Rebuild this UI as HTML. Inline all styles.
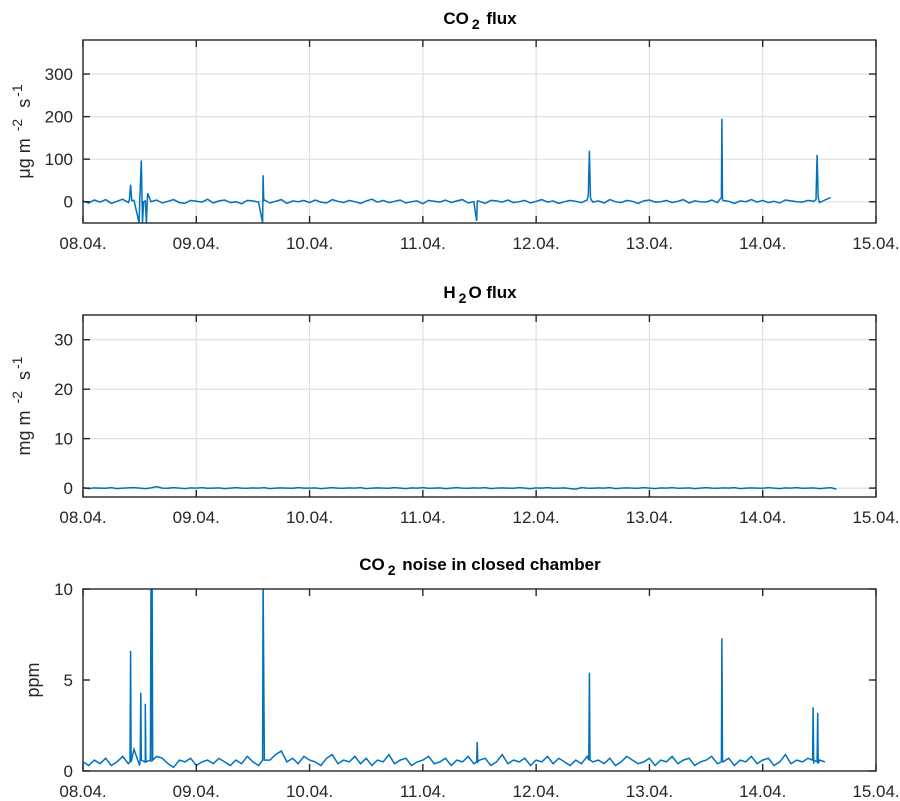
<!DOCTYPE html>
<html><head><meta charset="utf-8"><style>
body{margin:0;background:#fff}
svg{display:block;font-family:"Liberation Sans",sans-serif}
</style></head><body>
<svg id="c" width="900" height="801" viewBox="0 0 900 801"></svg>
<script>
const dayLabels=["08.04.","09.04.","10.04.","11.04.","12.04.","13.04.","14.04.","15.04."];
const noiseStart=0, noiseStep=0.05;
const co2Noise=[2,-3,4,-1,5,-4,1,6,-2,3,-5,2,0,4,-3,1,5,-2,-4,3,1,-1,6,-3,2,4,-2,0,-5,3,2,-1,4,-3,1,5,-4,2,0,3,-2,4,-1,-3,5,1,-2,3,0,-4,2,6,-1,3,-2,1,4,-3,0,2,-5,3,1,-1,4,-2,2,5,-3,0,1,-4,3,2,-1,4,-2,0,3,-3,1,5,-1,2,-4,0,3,1,-2,4,-1,2,-3,5,0,-2,3,1,-4,2,4,-1,0,3,-2,1,5,-3,2,0,-1,4,-2,3,1,-4,2,0,5,-1,3,-2,1,-3,4,2,0,-1,3,1,-2,4,10];
const co2SpikeDays=[0.41,0.42,0.43,0.495,0.505,0.515,0.525,0.535,0.56,0.57,1.585,1.59,1.595,3.475,3.48,3.485,4.46,4.47,4.48,5.635,5.64,5.645,6.47,6.48,6.49];
const co2SpikeVals=[5,40,3,-50,30,97,-50,0,-50,20,-50,62,3,-45,0,2,15,120,8,10,195,5,5,110,10];
const h2oNoise=[0.1,-0.1,0.05,0,-0.05,0.1,-0.1,0,0.05,0.1,0,-0.1,0.05,0.3,0,-0.05,0.1,0,-0.1,0.05,0,0.1,-0.05,0,0.05,-0.1,0,0.1,0,-0.05,0.05,0,0.1,-0.1,0,0.05,0,-0.05,0.1,0,0,0.05,-0.1,0,0.1,0,-0.05,0.05,0,0.1,-0.1,0,0.05,0,-0.05,0.1,0,-0.1,0.05,0,0.1,-0.05,0,0.05,-0.1,0,0.1,0,-0.05,0.05,0,0.1,-0.1,0,0.05,0,-0.05,0.1,0,-0.1,0.05,0,0.1,-0.05,0,0.05,-0.1,-0.2,0.1,0,-0.05,0.05,0,0.1,-0.1,0,0.05,0,-0.05,0.1,0,-0.1,0.05,0,0.1,-0.05,0,0.05,-0.1,0,0.1,0,-0.05,0.05,0,0.1,-0.1,0,0.05,0,-0.05,0.1,0,-0.1,0.05,0,0.1,-0.05,0,0.05,-0.1,0,0.1,-0.2];
const ppmNoise=[0.5,0.3,0.6,0.4,0.7,0.3,0.5,0.8,0.4,1.2,0.3,0.6,0.5,0.8,0.7,0.4,0.2,0.6,0.5,0.7,0.3,0.5,0.6,0.4,0.7,0.5,0.3,0.6,0.4,0.8,0.5,0.3,1.0,0.6,0.9,1.1,0.5,0.7,0.4,0.8,0.6,0.5,0.3,0.7,0.9,0.4,0.6,0.5,0.8,0.4,0.7,0.3,0.6,0.5,0.9,0.4,0.6,0.7,0.3,0.5,0.6,0.8,0.4,0.5,0.7,0.3,0.6,0.5,0.8,0.4,0.6,0.7,0.3,0.5,0.9,0.4,0.6,0.5,0.7,0.3,0.6,0.5,0.8,0.4,0.7,0.5,0.3,0.6,0.4,0.8,0.5,0.6,0.4,0.7,0.3,0.5,0.8,0.6,0.4,0.5,0.7,0.3,0.6,0.5,0.8,0.4,0.6,0.7,0.3,0.5,0.6,0.8,0.4,0.5,0.7,0.3,0.6,0.5,0.8,0.4,0.6,0.7,0.3,0.5,0.9,0.4,0.6,0.5,0.7,0.4,0.6,0.5];
const ppmSpikeDays=[0.415,0.42,0.425,0.505,0.51,0.515,0.545,0.55,0.555,0.595,0.6,0.61,0.615,1.585,1.59,1.6,3.475,3.48,3.485,4.465,4.47,4.475,5.635,5.64,5.645,6.44,6.445,6.45,6.48,6.485,6.49];
const ppmSpikeVals=[0.5,6.6,0.5,0.6,4.3,0.6,0.5,3.7,0.5,0.6,10.5,10.5,0.6,0.6,10.5,0.6,0.5,1.6,0.5,0.6,5.4,0.6,0.5,7.3,0.6,0.6,3.5,0.6,0.5,3.2,0.4];

const svg=document.getElementById('c');const NS='http://www.w3.org/2000/svg';
function mk(tag,attrs,parent){const e=document.createElementNS(NS,tag);for(const k in attrs)e.setAttribute(k,attrs[k]);(parent||svg).appendChild(e);return e;}
const X0=83,X1=876;
const xs=d=>X0+(X1-X0)*d/7;
function merge(noise,sd,sv){const pts=noise.map((v,i)=>[noiseStart+i*noiseStep,v]);sd.forEach((d,i)=>pts.push([d,sv[i]]));pts.sort((a,b)=>a[0]-b[0]);return pts;}
const panels=[
 {name:'co2-flux',top:40,bot:223,ymin:-50,ymax:380,ticks:[0,100,200,300],grid:true,pts:merge(co2Noise,co2SpikeDays,co2SpikeVals),title:['CO','2',' flux'],ty:24,lab:'ug',lx:30},
 {name:'h2o-flux',top:315,bot:497,ymin:-1.8,ymax:35,ticks:[0,10,20,30],grid:true,pts:merge(h2oNoise,[],[]),title:['H','2','O flux'],ty:298,lab:'mg',lx:30},
 {name:'co2-noise',top:589,bot:771,ymin:0,ymax:10,ticks:[0,5,10],grid:false,pts:merge(ppmNoise,ppmSpikeDays,ppmSpikeVals),title:['CO','2',' noise in closed chamber'],ty:570,lab:'ppm',lx:39}
];
panels.forEach((p,pi)=>{
 const g=mk('g',{});
 
 
 const ys=v=>p.bot-(p.bot-p.top)*(v-p.ymin)/(p.ymax-p.ymin);
 const cid='clip'+pi;const cp=mk('clipPath',{id:cid},g);mk('rect',{x:X0,y:p.top,width:X1-X0,height:p.bot-p.top},cp);
 if(p.grid){
  dayLabels.forEach((l,i)=>{if(i>0&&i<7){const gl=mk('line',{x1:xs(i),x2:xs(i),y1:p.top,y2:p.bot,stroke:'#e0e0e0','stroke-width':1.2},g);}});
  p.ticks.forEach(t=>{const gl=mk('line',{x1:X0,x2:X1,y1:ys(t),y2:ys(t),stroke:'#e0e0e0','stroke-width':1.2},g);});
 }
 const d=p.pts.map((q,i)=>(i?'L':'M')+xs(q[0]).toFixed(1)+','+ys(q[1]).toFixed(1)).join('');
 const ln=mk('path',{d:d,fill:'none',stroke:'#0072bd','stroke-width':1.5,'clip-path':'url(#'+cid+')'},g);
 
 
 const fr=mk('rect',{x:X0,y:p.top,width:X1-X0,height:p.bot-p.top,fill:'none',stroke:'#262626','stroke-width':1.4},g);
 
 dayLabels.forEach((l,i)=>{const x=xs(i);
  mk('line',{x1:x,x2:x,y1:p.bot,y2:p.bot-7,stroke:'#262626','stroke-width':1.4},g);mk('line',{x1:x,x2:x,y1:p.top,y2:p.top+7,stroke:'#262626','stroke-width':1.4},g);
  const t=mk('text',{x:x,y:p.bot+26,'text-anchor':'middle','font-size':17,fill:'#262626'},g);t.textContent=l;
  });
 p.ticks.forEach(v=>{const y=ys(v);
  mk('line',{x1:X0,x2:X0+7,y1:y,y2:y,stroke:'#262626','stroke-width':1.4},g);mk('line',{x1:X1,x2:X1-7,y1:y,y2:y,stroke:'#262626','stroke-width':1.4},g);
  const t=mk('text',{x:X0-10,y:y+6,'text-anchor':'end','font-size':17,fill:'#262626'},g);t.textContent=v;
  });
 const tt=mk('text',{x:480,y:p.ty,'text-anchor':'middle','font-size':17,'font-weight':'bold',fill:'#000'},g);
 
 const a=mk('tspan',{},tt);a.textContent=p.title[0];
 const b=mk('tspan',{dy:5,'font-size':14,dx:3},tt);b.textContent=p.title[1];
 const c=mk('tspan',{dy:-5,dx:2},tt);c.textContent=p.title[2];
 const cy=(p.top+p.bot)/2;
 const yl=mk('text',{transform:'translate('+p.lx+','+cy+') rotate(-90)','text-anchor':'middle','font-size':18,fill:'#262626'},g);
 
 if(p.lab==='ppm'){yl.textContent='ppm';}
 else{const u=p.lab==='ug'?'\u03bcg m':'mg m';
  const s1=mk('tspan',{},yl);s1.textContent=u+' ';
  const s2=mk('tspan',{dy:-8,'font-size':14,dx:2},yl);s2.textContent='-2';
  const s3=mk('tspan',{dy:8,dx:6},yl);s3.textContent=' s';
  const s4=mk('tspan',{dy:-8,'font-size':14,dx:2},yl);s4.textContent='-1';}
});
</script>
</body></html>
